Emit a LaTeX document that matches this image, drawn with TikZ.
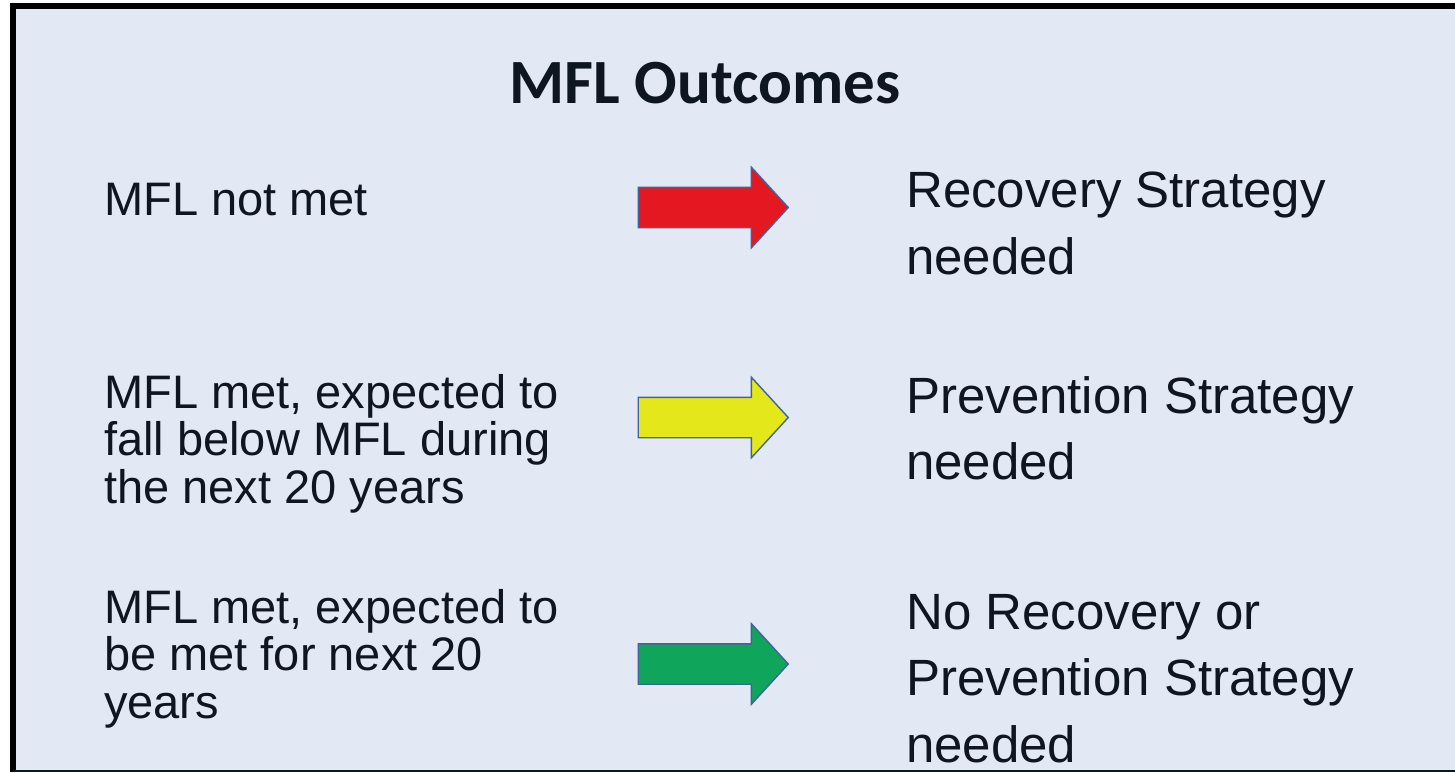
\documentclass[tikz,border=0pt]{standalone}
\usepackage{fontspec}
\setmainfont{Liberation Sans}
\newfontfamily\titlefont{Carlito}
\usetikzlibrary{shapes.arrows}
\definecolor{panel}{HTML}{E2E9F4}
\definecolor{ink}{HTML}{0E1622}
\definecolor{arrowred}{HTML}{E41820}
\definecolor{arrowyellow}{HTML}{E4E81A}
\definecolor{arrowgreen}{HTML}{0FA65B}
\definecolor{edgeblue}{HTML}{41639A}
\tikzset{
    outcome/.style = {
        anchor=north west, inner sep=0pt,
        align=left, text=ink,
        font=\fontsize{47}{47.5}\selectfont
    },
    result/.style = {
        anchor=north west, inner sep=0pt,
        align=left, text=ink,
        font=\fontsize{51}{66.5}\selectfont
    },
    flag/.style = {
        single arrow, draw=edgeblue, line width=1.4pt,
        minimum height=150pt, minimum width=79pt,
        inner xsep=0pt, inner ysep=19.5pt,
        single arrow head extend=20pt,
        single arrow tip angle=95
    }
}

\begin{document}
\begin{tikzpicture}[x=1pt, y=-1pt]

\useasboundingbox (0,0) rectangle (1455,772);
\fill[white] (0,0) rectangle (1455,772);
\fill[panel] (13,6) rectangle (1455,771);
\draw[black, line width=6pt] (12.7,772) -- (12.7,6.3) -- (1455,6.3);
\draw[ink, line width=2pt] (12.7,771) -- (1455,771);

\node (title) [anchor=base, text=ink, font=\titlefont\bfseries\fontsize{63}{63}\selectfont] at (705,103) {MFL Outcomes};

\node (notmet) [outcome] at (104,183) {MFL not met};
\node (fall) [outcome] at (104,374) {MFL met, expected to\\fall below MFL during\\the next 20 years};
\node (stays) [outcome] at (104,589) {MFL met, expected to\\be met for next 20\\years};

\node (recovery) [result] at (906,172) {Recovery Strategy\\needed};
\node (prevention) [result] at (906,376) {Prevention Strategy\\needed};
\node (none) [result] at (906,594) {No Recovery or\\Prevention Strategy\\needed};

\node (redflag) [flag, fill=arrowred] at (704,207.5) {};
\node (yellowflag) [flag, fill=arrowyellow] at (704,417.5) {};
\node (greenflag) [flag, fill=arrowgreen] at (704,664) {};

\end{tikzpicture}
\end{document}
